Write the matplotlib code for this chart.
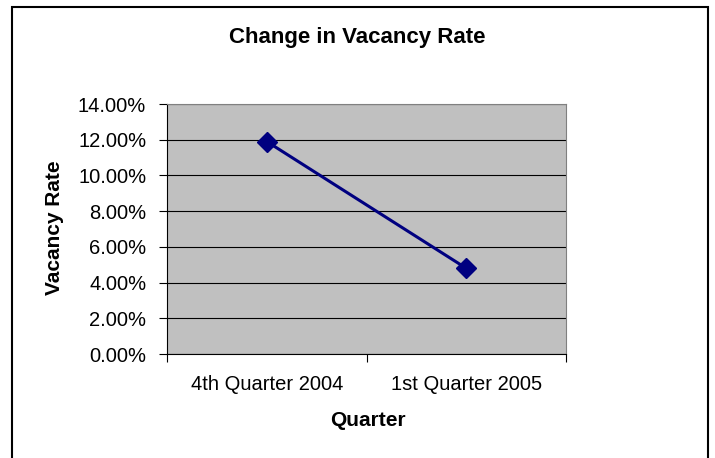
import matplotlib
matplotlib.use("Agg")
import matplotlib.pyplot as plt
from matplotlib.patches import Rectangle
from matplotlib.ticker import FuncFormatter, MultipleLocator

quarters = ["4th Quarter 2004", "1st Quarter 2005"]
vacancy = [0.119, 0.048]

plt.rcParams['font.family'] = ['Liberation Sans', 'DejaVu Sans']

W, H = 715, 458
fig = plt.figure(figsize=(W / 100, H / 100), dpi=100)

# outer chart frame (Excel style)
fig.patches.append(Rectangle((12 / W, 1 - 470 / H), 696 / W, 463 / H,
                             transform=fig.transFigure, fill=False,
                             edgecolor='black', linewidth=1.5))

ax = fig.add_axes([167 / W, 1 - 354 / H, 399 / W, 250 / H])
ax.set_facecolor('#C0C0C0')

x = [i + 0.5 for i in range(len(quarters))]
ax.plot(x, vacancy, color='#000080', linewidth=2.2, marker='D', markersize=10,
        markerfacecolor='#000080', markeredgecolor='#000080')

ax.set_xlim(0, len(quarters))
ax.set_ylim(0, 0.14)
ax.yaxis.set_major_locator(MultipleLocator(0.02))
ax.yaxis.set_major_formatter(FuncFormatter(lambda v, p: f"{v * 100:.2f}%"))
ax.grid(axis='y', color='black', linewidth=0.8)
ax.set_axisbelow(True)

ax.set_xticks(range(len(quarters) + 1))
ax.set_xticklabels([])
ax.set_xticks(x, minor=True)
ax.set_xticklabels(quarters, minor=True, fontsize=14.5)
ax.tick_params(axis='x', which='minor', length=0, pad=15)
ax.tick_params(axis='x', which='major', length=6, direction='out')
ax.tick_params(axis='y', length=6, direction='out', labelsize=14.5, pad=9)

for s in ['top', 'right']:
    ax.spines[s].set_color('#808080')
for s in ['left', 'bottom']:
    ax.spines[s].set_color('black')

fig.text(357 / W, 1 - 37 / H, "Change in Vacancy Rate", ha='center', va='center',
         fontsize=16, fontweight='bold')
fig.text(54 / W, 1 - 228 / H, "Vacancy Rate", ha='center', va='center',
         rotation=90, fontsize=15, fontweight='bold')
fig.text(368 / W, 1 - 420 / H, "Quarter", ha='center', va='center',
         fontsize=15, fontweight='bold')

fig.savefig("out.png", dpi=100)
